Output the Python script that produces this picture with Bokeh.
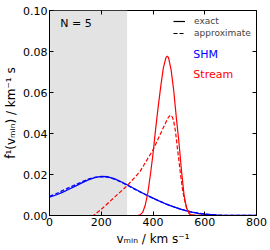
from bokeh.plotting import figure
from bokeh.models import (Range1d, FixedTicker, LinearAxis, BoxAnnotation, Label,
                          Legend, LegendItem)
from bokeh.embed import file_html
from bokeh.resources import INLINE

# ---------------- data ----------------
v_shm = [0, 25, 50, 75, 100, 125, 150, 175, 200, 225, 250, 275, 300, 325, 350, 375,
         400, 425, 450, 475, 500, 525, 550, 575, 600, 625, 650, 675, 700, 725, 750, 775, 800]
shm_exact = [0.0089, 0.0100, 0.0113, 0.0128, 0.0143, 0.0159, 0.0174, 0.0185, 0.0191, 0.0189,
             0.0180, 0.0166, 0.0150, 0.0133, 0.0116, 0.0100, 0.0085, 0.0070, 0.0056, 0.0044,
             0.0033, 0.0024, 0.0016, 0.0010, 0.0006, 0.0004, 0.0002, 0.0001, 0.00005, 0.0,
             0.0, 0.0, 0.0]
shm_approx = [0.0093, 0.0106, 0.0121, 0.0136, 0.0150, 0.0164, 0.0177, 0.0186, 0.0190, 0.0187,
              0.0178, 0.0164, 0.0148, 0.0131, 0.0115, 0.0099, 0.0084, 0.0070, 0.0057, 0.0045,
              0.0034, 0.0025, 0.0017, 0.0011, 0.0007, 0.0004, 0.0002, 0.0001, 0.00005, 0.0,
              0.0, 0.0, 0.0]

v_stream_exact = [0, 300, 340, 350, 360, 370, 380, 390, 400, 410, 420, 430, 440, 450, 455,
                  460, 470, 480, 490, 500, 510, 520, 530, 540, 550, 600, 800]
stream_exact = [0.0, 0.0, 0.0, 0.0003, 0.0015, 0.005, 0.011, 0.020, 0.030, 0.042, 0.053,
                0.063, 0.072, 0.0770, 0.0777, 0.0770, 0.071, 0.061, 0.048, 0.036, 0.022,
                0.010, 0.0035, 0.0008, 0.0001, 0.0, 0.0]

v_stream_approx = [0, 150, 170, 200, 250, 300, 350, 400, 435, 450, 460, 467, 475, 480, 487,
                   495, 500, 506, 515, 522, 529, 540, 550, 600, 800]
stream_approx = [0.0, 0.0, 0.0, 0.0030, 0.0088, 0.0145, 0.0215, 0.0320, 0.0415, 0.0455,
                 0.0480, 0.0490, 0.0480, 0.0460, 0.0410, 0.0320, 0.0270, 0.0205, 0.0120,
                 0.0075, 0.0040, 0.0012, 0.0003, 0.0, 0.0]

shade_range = [0, 300]

x_ticks = [0, 200, 400, 600, 800]
x_tick_labels = ["0", "200", "400", "600", "800"]
y_ticks = [0.0, 0.02, 0.04, 0.06, 0.08, 0.10]
y_tick_labels = ["0.00", "0.02", "0.04", "0.06", "0.08", "0.10"]

FONT = "DejaVu Sans"
NAN = float("nan")

# ---------------- figure ----------------
p = figure(frame_width=207, frame_height=205, output_backend="svg", toolbar_location=None,
           x_range=Range1d(0, 800), y_range=Range1d(0, 0.10),
           min_border_left=49, min_border_right=14, min_border_top=10, min_border_bottom=35)
p.xgrid.visible = False
p.ygrid.visible = False
p.outline_line_color = "black"
p.outline_line_width = 1
p.outline_line_alpha = 1
p.background_fill_color = "white"
p.border_fill_color = "white"


def style_axis(ax, ticks, labels, show_labels=True):
    ax.ticker = FixedTicker(ticks=ticks)
    ax.major_tick_in = 4
    ax.major_tick_out = 0
    ax.minor_tick_in = 0
    ax.minor_tick_out = 0
    ax.axis_line_color = "black"
    ax.major_tick_line_color = "black"
    ax.major_label_text_font = FONT
    ax.major_label_text_color = "black"
    ax.axis_label_text_font = FONT
    ax.axis_label_text_font_style = "normal"
    ax.axis_label_text_font_size = "12px"
    ax.axis_label_text_color = "black"
    if show_labels:
        ax.major_label_overrides = dict(zip(ticks, labels))
        ax.major_label_text_font_size = "11px"
        ax.major_label_standoff = 2
        ax.axis_label_standoff = 2
    else:
        ax.major_label_text_font_size = "1px"
        ax.major_label_text_color = None
        ax.major_label_standoff = 0
        ax.axis_line_color = None


style_axis(p.xaxis[0], x_ticks, x_tick_labels)
style_axis(p.yaxis[0], y_ticks, y_tick_labels)
p.xaxis[0].axis_label = "vₘᵢₙ / km s⁻¹"
p.yaxis[0].axis_label = "f̂¹(vₘᵢₙ) / km⁻¹ s"
p.xaxis[0].axis_label_standoff = 3

top_ax = LinearAxis()
style_axis(top_ax, x_ticks, x_tick_labels, show_labels=False)
p.add_layout(top_ax, "above")
right_ax = LinearAxis()
style_axis(right_ax, y_ticks, y_tick_labels, show_labels=False)
p.add_layout(right_ax, "right")

# shaded region
p.add_layout(BoxAnnotation(left=shade_range[0], right=shade_range[1], fill_color="#e3e3e3",
                           fill_alpha=1, line_color=None, level="underlay"))

# curves
p.line(v_shm, shm_exact, line_color="blue", line_width=1.3)
p.line(v_shm, shm_approx, line_color="blue", line_width=1.3, line_dash="4 2")
p.line(v_stream_exact, stream_exact, line_color="red", line_width=1.2)
p.line(v_stream_approx, stream_approx, line_color="red", line_width=1.2, line_dash="4 2")

# legend (line styles only; no data drawn)
r_exact = p.line(x=[NAN], y=[NAN], line_color="black", line_width=1.2)
r_approx = p.line(x=[NAN], y=[NAN], line_color="black", line_width=1.2, line_dash="4 2")
legend = Legend(items=[LegendItem(label="exact", renderers=[r_exact]),
                       LegendItem(label="approximate", renderers=[r_approx])],
                location=(124, 176), padding=0, margin=0, spacing=0,
                glyph_width=12, glyph_height=12, label_height=12, label_standoff=9,
                label_text_font=FONT, label_text_font_size="9px",
                border_line_color=None, background_fill_alpha=0)
p.add_layout(legend)

# text labels
p.add_layout(Label(x=42, y=0.0937, text="N = 5", text_font=FONT, text_font_size="11px",
                   text_color="black", text_baseline="alphabetic"))
p.add_layout(Label(x=556, y=0.0785, text="SHM", text_font=FONT, text_font_size="11px",
                   text_color="blue", text_baseline="alphabetic"))
p.add_layout(Label(x=556, y=0.0688, text="Stream", text_font=FONT, text_font_size="11px",
                   text_color="red", text_baseline="alphabetic"))

open("out.html", "w").write(file_html(p, INLINE))
